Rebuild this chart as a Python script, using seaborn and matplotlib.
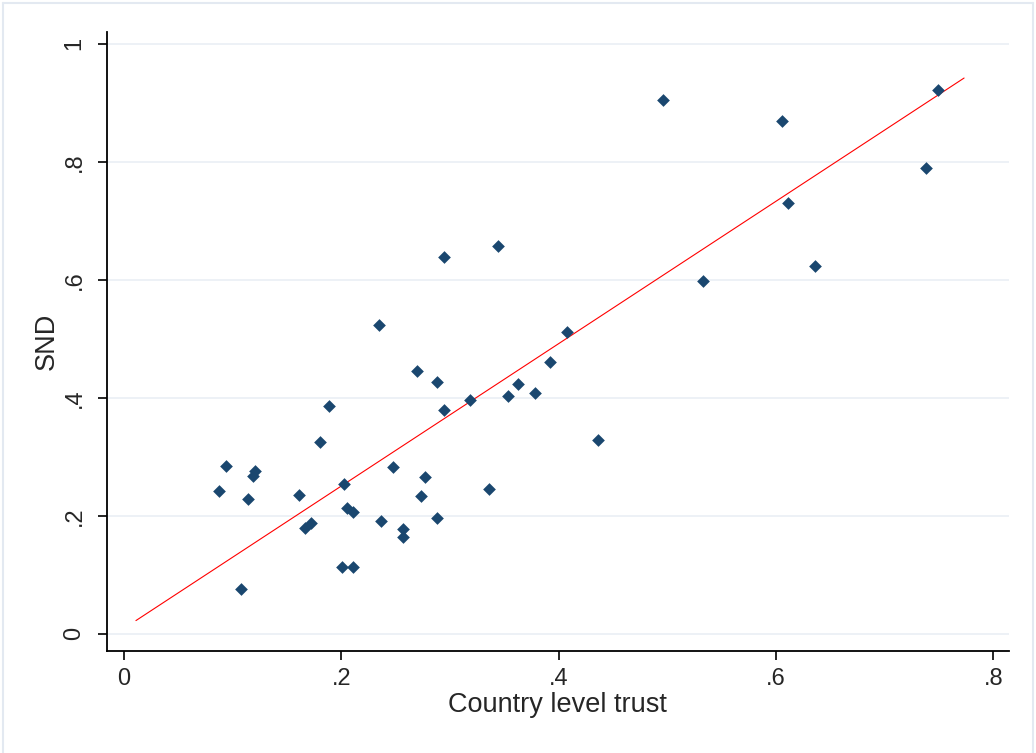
import numpy as np
import pandas as pd
import matplotlib
matplotlib.use("Agg")
import matplotlib.pyplot as plt
import seaborn as sns
from matplotlib.lines import Line2D

# country level trust (x) and SND (y)
trust = [0.0877, 0.0935, 0.1079, 0.1143, 0.1189, 0.1205, 0.1606, 0.1670, 0.1717,
         0.1805, 0.1885, 0.2007, 0.2026, 0.2054, 0.2103, 0.2109, 0.2351, 0.2363,
         0.2471, 0.2568, 0.2568, 0.2694, 0.2737, 0.2771, 0.2878, 0.2878, 0.2943,
         0.2943, 0.3188, 0.3359, 0.3439, 0.3531, 0.3626, 0.3779, 0.3917, 0.4077,
         0.4359, 0.4956, 0.5330, 0.6057, 0.6109, 0.6354, 0.7377, 0.7488]
snd = [0.242, 0.285, 0.076, 0.228, 0.268, 0.276, 0.236, 0.179, 0.188,
       0.325, 0.386, 0.114, 0.254, 0.214, 0.114, 0.207, 0.523, 0.192,
       0.283, 0.178, 0.164, 0.446, 0.234, 0.266, 0.426, 0.197, 0.638,
       0.380, 0.397, 0.245, 0.658, 0.403, 0.423, 0.409, 0.460, 0.512,
       0.329, 0.904, 0.598, 0.870, 0.730, 0.624, 0.790, 0.922]

# fitted line end points
fit_x = [0.011, 0.773]
fit_y = [0.0225, 0.942]

x_ticks = [0, 0.2, 0.4, 0.6, 0.8]
x_labels = ["0", ".2", ".4", ".6", ".8"]
y_ticks = [0, 0.2, 0.4, 0.6, 0.8, 1]
y_labels = ["0", ".2", ".4", ".6", ".8", "1"]

df = pd.DataFrame({"trust": trust, "snd": snd})
fit = pd.DataFrame({"trust": fit_x, "snd": fit_y})

sns.set_style("white")
plt.rcParams['font.family'] = ['Liberation Sans', 'DejaVu Sans']

fig = plt.figure(figsize=(10.36, 7.53), dpi=100)
ax = fig.add_axes([0.1033, 0.1355, 0.8703, 0.822])

for yt in y_ticks:
    ax.axhline(yt, color='#e8eef4', lw=1.1, zorder=0)

sns.scatterplot(x='trust', y='snd', data=df, ax=ax, marker='D', s=42,
                color='#1a476f', linewidth=0, zorder=3)
sns.lineplot(x='trust', y='snd', data=fit, ax=ax, color='red', lw=0.8, zorder=2)

ax.set_xlim(-0.0156, 0.814)
ax.set_ylim(-0.029, 1.02)
ax.set_xticks(x_ticks)
ax.set_xticklabels(x_labels, fontsize=17)
ax.set_yticks(y_ticks)
ax.set_yticklabels(y_labels, fontsize=17, rotation=90, va='center')
ax.tick_params(axis='both', direction='out', length=6.5, width=1.2, color='black',
               bottom=True, left=True)
ax.tick_params(axis='x', pad=6)
ax.tick_params(axis='y', pad=9)
ax.set_xlabel("Country level trust", fontsize=19.5, labelpad=1)
ax.set_ylabel("SND", fontsize=19.5, labelpad=3)

for side in ['top', 'right']:
    ax.spines[side].set_visible(False)
for side in ['left', 'bottom']:
    ax.spines[side].set_color('black')
    ax.spines[side].set_linewidth(1.3)

# light outer frame like the graph region border
W, H = 1036, 753
frame_col = '#e3e9f1'
fig.add_artist(Line2D([3 / W, 3 / W], [0, 1 - 3 / H], color=frame_col, lw=1.5))
fig.add_artist(Line2D([1033 / W, 1033 / W], [0, 1 - 3 / H], color=frame_col, lw=1.5))
fig.add_artist(Line2D([3 / W, 1033 / W], [1 - 3 / H, 1 - 3 / H], color=frame_col, lw=1.5))

fig.savefig("out.png", dpi=100, facecolor='white')
